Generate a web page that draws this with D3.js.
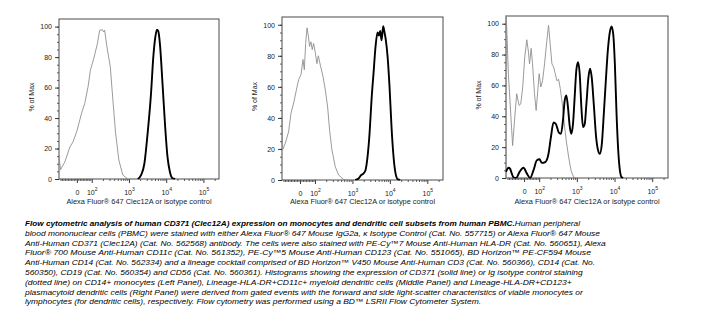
<!DOCTYPE html>
<html><head><meta charset="utf-8">
<script src="https://cdn.jsdelivr.net/npm/d3@7"></script>
<style>
body{margin:0;background:#fff}
svg{display:block}
text{font-family:"Liberation Sans",Arial,Helvetica,sans-serif}
</style>
</head><body>
<svg id="chart" width="715" height="322"></svg>
<script>
// ---------------- DATA (intensity, % of Max) ----------------
const panelNames = ["Left", "Middle", "Right"];

// Left panel: CD14+ monocytes
const isoLeftX   = [-120,-110,-80,-47,-25,2,31,53,75,91,113,142,163,193,209,222,256,315,370,437,535,683,929];
const isoLeftY   = [15,6,11.4,21,24.5,32,43,49.6,60.5,71.4,79,88.9,97.6,98,96.5,97.6,86.7,73.6,51.7,30,12.4,2.6,0];
const cd371LeftX = [1718,2113,2590,3170,3908,4500,5090,5650,6120,6790,7970,9400,10840,12550,14730,17380];
const cd371LeftY = [0,2.6,10,30,56,80,93,98,97,88.5,62.4,34,14.5,4.8,0.5,0];

// Middle panel: myeloid dendritic cells
const isoMidX   = [-120,-116,-98,-76,-60,-42,-24,-9,7,20,29,38,47,56,64,73,82,91,102,113,123,139,163,189,218,246,284,348,428,581,713];
const isoMidY   = [60,19.4,23.7,31,43,49.6,58,64.7,68,77.6,71,88,98,92.7,86,89,84,88,82,75,80,74,67,58,47,32,19.4,8.6,3.2,0.4,0];
const cd371MidX = [1190,1458,1718,1985,2245,2537,2870,3245,3668,4146,4690,5090,5525,5996,6640,7210,7820,8660,9800,11080,12530,14170,16340,18870];
const cd371MidY = [0,1,3.2,4.3,6.5,15,30,52,69,86,95,93,96,90,99,95,90,80,60,34,15,4.3,0.4,0];

// Right panel: plasmacytoid dendritic cells
const isoRightX   = [-120,-120,-104,-76,-60,-49,-33,-22,-9,4,18,29,36,47,56,69,80,91,100,111,123,139,160,177,196,218,241,267,296,328,363,411,464,525,606,699,823,970];
const isoRightY   = [0,110,67,21,41.6,54.6,47,48,59,78,89.6,81.6,74,84,74,54.6,43.8,56.8,67.6,59,63,74,89,99,87,74,72,67.6,63,64,58,48,35,24,13.5,5,0.5,0];
const cd371RightX = [-120,-116,-104,-93,-82,-71,-53,-31,-4,18,40,62,84,102,118,145,177,205,241,278,328,378,428,474,525,581,644,713,790,875,970,1075,1190,1318,1458,1618,1792,2026,2245,2485,2810,3245,3668,4064,4594,5191,5872,6640,7503,8318,9210,10200,11300,12530,13870,15370,17000];
const cd371RightY = [4,4.9,6.6,6,3,0.5,0,3.8,6.6,3,0,4.9,11.4,12.2,9.8,10.3,15.7,26.5,36,35,29.7,28.6,37.3,50,53.5,46,34,28.6,35,52.4,70,75,67.6,46,33,35,48,65,70.8,65,48,26.5,17.8,15.7,22,41.6,63,82.7,94.6,98.3,93.5,74,41.6,17.8,4.9,0.5,0];

const yTicks = [0,20,40,60,80,100];
const yMinorTicks = d3.range(0, 105, 5);
const xTickValues = [0, 100, 1000, 10000, 100000];
const xTickBase = ["0", "10", "10", "10", "10"];
const xTickExp  = ["", "2", "3", "4", "5"];
const xMinorTicks = [-110,-100,-90,-80,-70,-60,-50,-40,-30,-20,-10,10,20,30,40,50,60,70,80,90,
  200,300,400,500,600,700,800,900,2000,3000,4000,5000,6000,7000,8000,9000,
  20000,30000,40000,50000,60000,70000,80000,90000,200000];
const xDomain = [-120, 262144];
const yMax = 105;
const xTitle = "Alexa Fluor\u00AE 647 Clec12A or isotype control";
const yTitle = "% of Max";

const captionLines = [
  [["Flow cytometric analysis of human CD371 (Clec12A) expression on monocytes and dendritic cell subsets from human PBMC.", true], ["Human peripheral", false]],
  [["blood mononuclear cells (PBMC) were stained with either Alexa Fluor\u00AE 647 Mouse IgG2a, \u03BA Isotype Control (Cat. No. 557715) or Alexa Fluor\u00AE 647 Mouse", false]],
  [["Anti-Human CD371 (Clec12A) (Cat. No. 562568) antibody. The cells were also stained with PE-Cy\u21227 Mouse Anti-Human HLA-DR (Cat. No. 560651), Alexa", false]],
  [["Fluor\u00AE 700 Mouse Anti-Human CD11c (Cat. No. 561352), PE-Cy\u21225  Mouse Anti-Human CD123 (Cat. No. 551065), BD Horizon\u2122 PE-CF594 Mouse", false]],
  [["Anti-Human CD14 (Cat. No. 562334) and a lineage cocktail comprised of BD Horizon\u2122 V450 Mouse Anti-Human CD3 (Cat. No. 560366), CD14 (Cat. No.", false]],
  [["560350), CD19 (Cat. No. 560354) and CD56 (Cat. No. 560361). Histograms showing the expression of CD371 (solid line) or Ig isotype control staining", false]],
  [["(dotted line) on CD14+ monocytes (Left Panel), Lineage-HLA-DR+CD11c+ myeloid dendritic cells (Middle Panel) and Lineage-HLA-DR+CD123+", false]],
  [["plasmacytoid dendritic cells (Right Panel) were derived from gated events with the forward and side light-scatter characteristics of viable monocytes or", false]],
  [["lymphocytes (for dendritic cells), respectively. Flow cytometry was performed using  a BD\u2122 LSRII Flow Cytometer System.", false]]
];
const captionLineEnds = [580, 600, 605.7, 591, 595, 582.7, 571.7, 582.7, 481];

// ---------------- LAYOUT ----------------
const layout = [
  {left: 59,  top: 19, w: 160, h: 160},
  {left: 282, top: 17, w: 161, h: 163},
  {left: 506, top: 16, w: 162, h: 162}
];
const series = [
  {iso: [isoLeftX, isoLeftY],   cd: [cd371LeftX, cd371LeftY]},
  {iso: [isoMidX, isoMidY],     cd: [cd371MidX, cd371MidY]},
  {iso: [isoRightX, isoRightY], cd: [cd371RightX, cd371RightY]}
];

// biexponential-like display transform (linear near zero, log above 100)
function biex(v){ return v >= 100 ? Math.log10(v) : 1.6 + 0.004 * v; }

const svg = d3.select("#chart");
const fs = 7;

layout.forEach((L, i) => {
  const g = svg.append("g").attr("transform", `translate(${L.left},${L.top})`);
  const x = d3.scaleLinear().domain(xDomain.map(biex)).range([0, L.w]);
  const y = d3.scaleLinear().domain([0, yMax]).range([L.h, 0]);

  const cid = "clip" + i;
  g.append("clipPath").attr("id", cid).append("rect")
    .attr("x", -0.5).attr("y", -0.5).attr("width", L.w + 1).attr("height", L.h + 1);

  const yMinor = d3.axisLeft(y).tickValues(yMinorTicks).tickSize(2).tickFormat("").tickSizeOuter(0);
  g.append("g").call(yMinor).call(s => s.select(".domain").remove())
    .selectAll("line").attr("stroke", "#333").attr("stroke-width", 0.8);
  const yAx = d3.axisLeft(y).tickValues(yTicks).tickSize(4).tickPadding(3).tickSizeOuter(0);
  const ya = g.append("g").call(yAx);
  ya.select(".domain").remove();
  ya.selectAll("line").attr("stroke", "#222").attr("stroke-width", 0.9);
  ya.selectAll("text").attr("font-size", fs).attr("fill", "#222")
    .attr("font-family", "Liberation Sans, Arial, sans-serif");

  const xMinor = d3.axisBottom(x).tickValues(xMinorTicks.map(biex)).tickSize(2).tickFormat("").tickSizeOuter(0);
  g.append("g").attr("transform", `translate(0,${L.h})`).call(xMinor)
    .call(s => s.select(".domain").remove())
    .selectAll("line").attr("stroke", "#333").attr("stroke-width", 0.8);
  const xAx = d3.axisBottom(x).tickValues(xTickValues.map(biex)).tickSize(4).tickSizeOuter(0);
  const xa = g.append("g").attr("transform", `translate(0,${L.h})`).call(xAx);
  xa.select(".domain").remove();
  xa.selectAll("line").attr("stroke", "#222").attr("stroke-width", 0.9);
  xa.selectAll("text").each(function(d, k){
    const t = d3.select(this);
    t.text(null).attr("y", 15.5).attr("dy", null).attr("font-size", fs).attr("fill", "#222")
      .attr("font-family", "Liberation Sans, Arial, sans-serif");
    t.append("tspan").text(xTickBase[k]);
    if (xTickExp[k]) t.append("tspan").attr("dy", -3.5).attr("font-size", 5).text(xTickExp[k]);
  });

  g.append("rect").attr("x", 0).attr("y", 0).attr("width", L.w).attr("height", L.h)
    .attr("fill", "none").attr("stroke", "#4a4a4a").attr("stroke-width", 1);

  const plot = g.append("g").attr("clip-path", `url(#${cid})`);
  const S = series[i];
  const isoPts = S.iso[0].map((v, k) => [v, S.iso[1][k]]);
  const cdPts = S.cd[0].map((v, k) => [v, S.cd[1][k]]);
  const lineIso = d3.line().x(d => x(biex(d[0]))).y(d => y(d[1])).curve(d3.curveLinear);
  const lineCd = d3.line().x(d => x(biex(d[0]))).y(d => y(d[1])).curve(d3.curveMonotoneX);
  plot.append("path").attr("d", lineIso(isoPts)).attr("fill", "none")
    .attr("stroke", "#8f8f8f").attr("stroke-width", 0.9).attr("stroke-linejoin", "round");
  plot.append("path").attr("d", lineCd(cdPts)).attr("fill", "none")
    .attr("stroke", "#000").attr("stroke-width", 1.9).attr("stroke-linejoin", "round");

  g.append("text").attr("x", L.w / 2).attr("y", 203.5 - L.top)
    .attr("text-anchor", "middle").attr("font-size", 7.4).attr("fill", "#222").text(xTitle);
  g.append("text").attr("transform", `translate(${-25},${(L.h) / 2 - 2}) rotate(-90)`)
    .attr("text-anchor", "middle").attr("font-size", fs).attr("fill", "#222").text(yTitle);
});

const cap = svg.append("g");
captionLines.forEach((parts, i) => {
  const t = cap.append("text").attr("x", 25).attr("y", 226 + i * 9.8)
    .attr("font-size", 7.6).attr("font-style", "italic").attr("fill", "#000")
    .attr("textLength", captionLineEnds[i] - 25).attr("lengthAdjust", "spacingAndGlyphs");
  parts.forEach(p => {
    t.append("tspan").attr("font-weight", p[1] ? "bold" : "normal").text(p[0]);
  });
});
</script>
</body></html>
